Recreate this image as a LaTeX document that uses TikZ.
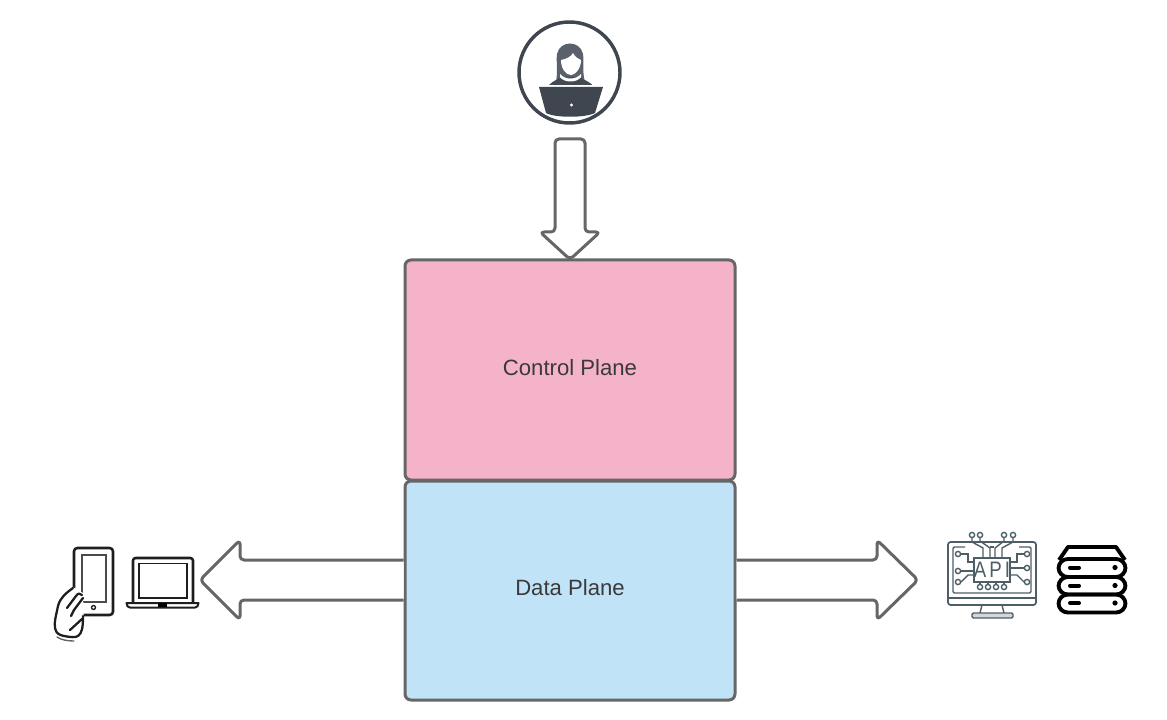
\documentclass[tikz,border=0pt]{standalone}
\usepackage{fontspec}
\setmainfont{Liberation Sans}
\usetikzlibrary{calc}
\definecolor{edgegray}{HTML}{666666}
\definecolor{pinkfill}{HTML}{F4B3C8}
\definecolor{bluefill}{HTML}{C1E3F7}
\definecolor{labelc}{HTML}{3A3A3A}
\definecolor{userdark}{HTML}{3F4650}
\definecolor{hairc}{HTML}{5A616C}
\definecolor{apic}{HTML}{4E5E67}
\definecolor{inkc}{HTML}{1E1E1E}
\tikzset{
  plane/.style={draw=edgegray,line width=2.25pt,rounded corners=4.5pt,minimum width=247.5pt,inner sep=0pt,text=labelc,font=\fontsize{16.6}{20}\selectfont},
  blockarrow/.style={draw=edgegray,line width=2.25pt,rounded corners=3pt,fill=white,line join=round},
  apiline/.style={draw=apic,line width=1.05pt},
  apicirc/.style={draw=apic,line width=1.05pt,fill=white},
  srv/.style={draw=black,line width=2.9pt,rounded corners=5pt},
  handline/.style={draw=inkc,line width=1.7pt,line cap=round,line join=round},
}
\begin{document}
\begin{tikzpicture}[x=0.75pt,y=-0.75pt]
\useasboundingbox (0,0) rectangle (1167,720);
% planes
\node[plane,fill=pinkfill,minimum height=165pt] (control) at (570,370) {};
\node[plane,fill=bluefill,minimum height=164.25pt] (data) at (570,590.5) {};
\node[text=labelc,font=\fontsize{16.6}{20}\selectfont] (controllabel) at (570,368) {Control Plane};
\node[text=labelc,font=\fontsize{16.6}{20}\selectfont] (datalabel) at (570,588) {Data Plane};
% block arrows
\coordinate (toptip) at (570,259.5);
\draw[blockarrow] (570,139) -- (585,139) -- (585,232) -- (600,232) -- (toptip) -- (540,232) -- (555,232) -- (555,139) -- (570,139);
\coordinate (rs1) at (data.east |- 0,560);
\coordinate (rs2) at (data.east |- 0,600);
\draw[blockarrow] (rs1) -- (877,560) -- (877,540) -- (918,580) -- (877,620) -- (877,600) -- (rs2);
\coordinate (ls1) at (data.west |- 0,560);
\coordinate (ls2) at (data.west |- 0,600);
\draw[blockarrow] (ls1) -- (240,560) -- (240,540) -- (200,580) -- (240,620) -- (240,600) -- (ls2);
% user icon
\draw[userdark,line width=2.6pt] (569.5,72.5) circle (50.5);
\fill[hairc] (556,82) .. controls (558,72) and (556,60) .. (557,54) .. controls (560,40) and (580,40) .. (583,54) .. controls (584,60) and (582,72) .. (585,82) -- cycle;
\fill[userdark!85!hairc] (546,90) .. controls (548,83) and (556,80) .. (562,77) -- (578,77) .. controls (585,80) and (593,83) .. (596,90) -- cycle;
\fill[white] (561,60) .. controls (566,59) and (571,57) .. (573,53) .. controls (575,57) and (578,59) .. (581,60) .. controls (581,69) and (575,75) .. (571,75) .. controls (566,75) and (561,69) .. (561,60) -- cycle;
\fill[white] (560,74) .. controls (565,80) and (576,80) .. (581,74) -- (581,77) .. controls (577,83) and (564,83) .. (560,77) -- cycle;
\fill[white] (537,85.5) rectangle (605,87);
\fill[userdark] (539,87) -- (603,87) -- (595,113) .. controls (585,118) and (555,118) .. (546,113) -- cycle;
\fill[white] (571.5,105) circle (1.7);
% phone
\draw[inkc,line width=1.9pt,rounded corners=2.5pt] (74,548) rectangle (113,615);
\draw[inkc!80,line width=1pt] (82,555) rectangle (106,602);
\draw[inkc,line width=1pt] (93.5,607.5) circle (2);
\fill[white] (73,587) -- (83,593) -- (84,630) -- (75,640) -- (55,637) -- (54,615) -- cycle;
\draw[handline] (73,588) .. controls (66,593) and (60,598) .. (58,606) .. controls (56,616) and (54,622) .. (55,628) .. controls (56,634) and (60,635) .. (64,636) .. controls (70,637) and (75,638) .. (78,636) .. controls (82,633) and (83,628) .. (83,616);
\draw[handline] (82,595) .. controls (80,593) and (78,593) .. (76,596) -- (67,608);
\draw[handline] (83,598) -- (74,610) -- (71,616);
\draw[handline] (82,619) -- (70,630);
\draw[inkc!70,line width=1pt,line cap=round] (57,637) .. controls (61,640) and (68,641) .. (74,641);
% laptop
\draw[inkc,line width=1.9pt,rounded corners=2pt] (133,602) -- (133,558) -- (193,558) -- (193,602);
\draw[inkc,line width=1.1pt] (139,563.5) rectangle (187,598);
\draw[inkc,line width=1.5pt,line join=round] (126.5,603) -- (198.5,603) .. controls (198.5,606) and (197,607.5) .. (195,607.5) -- (130,607.5) .. controls (128,607.5) and (126.5,606) .. (126.5,603) -- cycle;
\fill[black] (158,602.5) rectangle (167,606.5);
% API monitor
\draw[apic,line width=1.3pt,rounded corners=2pt] (948,542) rectangle (1036,605);
\draw[apic,line width=1.05pt] (948,598) -- (1036,598);
\draw[apic,line width=1pt,rounded corners=1pt] (965,547) -- (953,547) -- (953,593) -- (1031,593) -- (1031,547) -- (1019,547);
\draw[apiline] (990,547) -- (994,547);
\draw[apic,line width=1.05pt,line join=round] (982,605) -- (980,613) (1002,605) -- (1004,613);
\draw[apic,line width=1.05pt,rounded corners=1pt,fill=apic!25] (972,613) rectangle (1013,618);
% circuit traces
\draw[apiline] (972,538) -- (972,542) -- (983,548) -- (983,558);
\draw[apiline] (980,538) -- (980,541) -- (990,548) -- (990,558);
\draw[apiline] (1004,538) -- (1004,541) -- (995,548) -- (995,558);
\draw[apiline] (1013,538) -- (1013,542) -- (1002,548) -- (1002,558);
\draw[apiline] (961,554) -- (968,554) -- (968,562) -- (974,562);
\draw[apiline] (961,571) -- (974,571);
\draw[apiline] (961,582) -- (968,575) -- (974,575);
\draw[apiline] (1024,554) -- (1017,554) -- (1017,562) -- (1010,562);
\draw[apiline] (1024,568) -- (1010,568);
\draw[apiline] (1024,582) -- (1017,575) -- (1010,575);
\draw[apiline] (980,582) -- (980,585) (988,582) -- (988,585) (996,582) -- (996,585) (1004,582) -- (1004,585);
\foreach \cx in {972,980,1004,1013} \draw[apicirc] (\cx,535) circle (2.6);
\foreach \cx in {980,988,996,1004} \draw[apicirc] (\cx,587) circle (2.6);
\foreach \cy in {554,571,582} \draw[apicirc] (958,\cy) circle (2.6);
\foreach \cy in {554,568,582} \draw[apicirc] (1027,\cy) circle (2.6);
\draw[apic,line width=1.3pt,fill=white] (974,558) rectangle (1010,582);
\node[text=apic,inner sep=0pt,font=\fontsize{14}{14}\selectfont] (apitext) at (992,570) {\scalebox{1}[1.2]{A\,P\,I}};
% server stack
\draw[black,line width=2.9pt,line join=round] (1059,560) -- (1068,547) -- (1116,547) -- (1125,560);
\draw[srv,rounded corners=7pt] (1058.5,559) rectangle (1125.5,577);
\draw[srv,rounded corners=7pt] (1058.5,577) rectangle (1125.5,594.5);
\draw[srv,rounded corners=7pt] (1058.5,594.5) rectangle (1125.5,612.5);
\foreach \sy in {567.5,585.5,603}{
  \draw[black,line width=3pt,line cap=round] (1070,\sy) -- (1079,\sy);
  \fill[black] (1115,\sy) circle (2.6);
}
\end{tikzpicture}
\end{document}
